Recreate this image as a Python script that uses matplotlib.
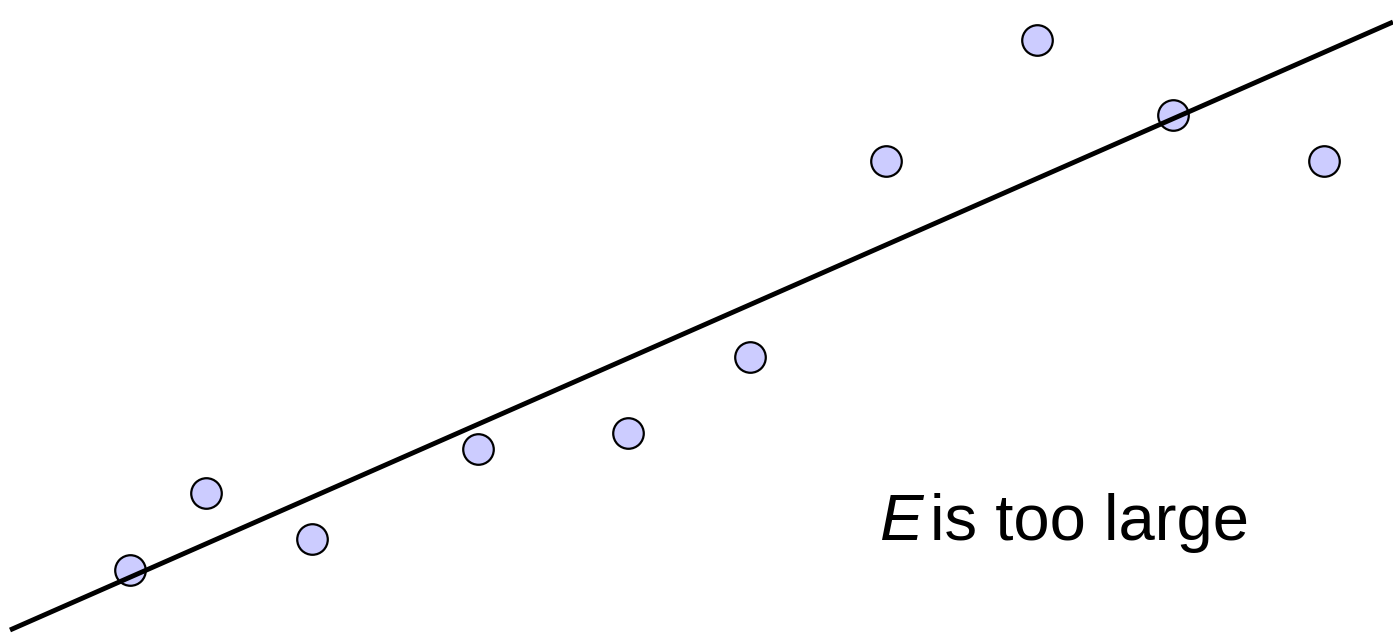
import matplotlib.pyplot as plt
import numpy as np

# Messpunkte
x = np.array([1.30, 2.06, 3.12, 4.78, 6.28, 7.50, 8.86, 10.37, 11.73, 13.24])
y = np.array([0.64, 1.41, 0.95, 1.85, 2.01, 2.77, 4.73, 5.94, 5.19, 4.73])

# Ausgleichsgerade (Endpunkte)
line_x = np.array([0.10, 13.93])
line_y = np.array([0.04, 6.12])

fig = plt.figure(figsize=(13.93, 6.34), dpi=100)
ax = fig.add_axes([0, 0, 1, 1])
ax.set_xlim(0, 13.93)
ax.set_ylim(0, 6.34)
ax.axis('off')

ax.plot(x, y, 'o', ms=22, mfc='#ccccff', mec='black', mew=1.6, zorder=2)
ax.plot(line_x, line_y, '-', color='black', lw=3.5, solid_capstyle='butt', zorder=3)

ax.text(8.80, 0.94, 'E', fontsize=47, family='Liberation Sans',
        style='italic', va='baseline', ha='left')
ax.text(9.30, 0.94, 'is too large', fontsize=47, family='Liberation Sans',
        va='baseline', ha='left')

plt.savefig('out.png', dpi=100)
